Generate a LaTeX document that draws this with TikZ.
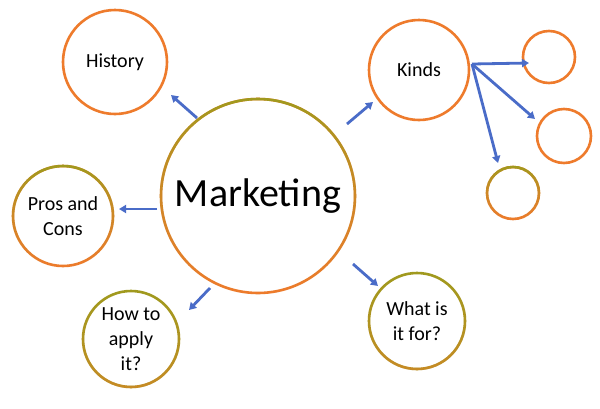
\documentclass[tikz,border=0pt]{standalone}
\usepackage{fontspec}
\setmainfont{Carlito}
\usetikzlibrary{fadings,arrows.meta}
\definecolor{org}{HTML}{EE7B2C}
\definecolor{olv}{HTML}{A09A1E}
\definecolor{arr}{HTML}{4A6CC8}
\tikzset{
  bub/.style={circle,draw=org,line width=2.6pt,inner sep=0pt,align=center,font=\fontsize{20}{25}\selectfont},
  con/.style={draw=arr,line width=2.8pt,-{Triangle[length=7pt,width=8pt]}}
}
\tikzfading[name=halfsouth, top color=transparent!100, bottom color=transparent!0, middle color=transparent!60]
\newcommand{\bubble}[4]{% name, center, diameter, text
  \node[bub,minimum size=#3] (#1) at #2 {#4};
  \draw[olv,line width=2.6pt,path fading=halfsouth,fading transform={yscale=-1}] #2 circle ({#3/2});
}
\newcommand{\obubble}[4]{\node[bub,minimum size=#3] (#1) at #2 {#4};}
\newcommand{\gbubble}[4]{\node[bub,draw=olv,minimum size=#3] (#1) at #2 {#4};
  \draw[org,line width=2.6pt,path fading=halfsouth,fading transform={yscale=1},opacity=0.5] #2 circle ({#3/2});}
\begin{document}
\begin{tikzpicture}[x=1pt,y=-1pt]
\useasboundingbox (0,0) rectangle (600,408);
\fill[white] (0,0) rectangle (600,408);
\bubble{m}{(258,196)}{194pt}{\fontsize{40}{44}\selectfont Marketing}
\obubble{h}{(115,62)}{104pt}{History}
\obubble{k}{(419,70)}{100pt}{Kinds}
\bubble{p}{(63,216)}{100pt}{Pros and\\Cons}
\gbubble{a}{(131,339)}{96pt}{How to\\apply\\it?}
\gbubble{w}{(417,321)}{96pt}{What is\\it for?}
\obubble{s1}{(549,57)}{52pt}{}
\obubble{s2}{(564,136)}{54pt}{}
\bubble{s3}{(513,193)}{52pt}{}
\coordinate (kk) at (472,64);
\coordinate (h1) at (197,118); \coordinate (h2) at (171,95);
\coordinate (k1) at (347,124); \coordinate (k2) at (373,102);
\coordinate (p1) at (157,209); \coordinate (p2) at (119,209);
\coordinate (a1) at (210,288); \coordinate (a2) at (189,310);
\coordinate (w1) at (353,264); \coordinate (w2) at (378,286);
\draw[con] (h1) -- (h2);
\draw[con] (k1) -- (k2);
\draw[con] (p1) -- (p2);
\draw[con] (a1) -- (a2);
\draw[con] (w1) -- (w2);
\draw[con] (kk) -- (529,63);
\draw[con] (kk) -- (535,119);
\draw[con] (kk) -- (498,163);
\end{tikzpicture}
\end{document}
